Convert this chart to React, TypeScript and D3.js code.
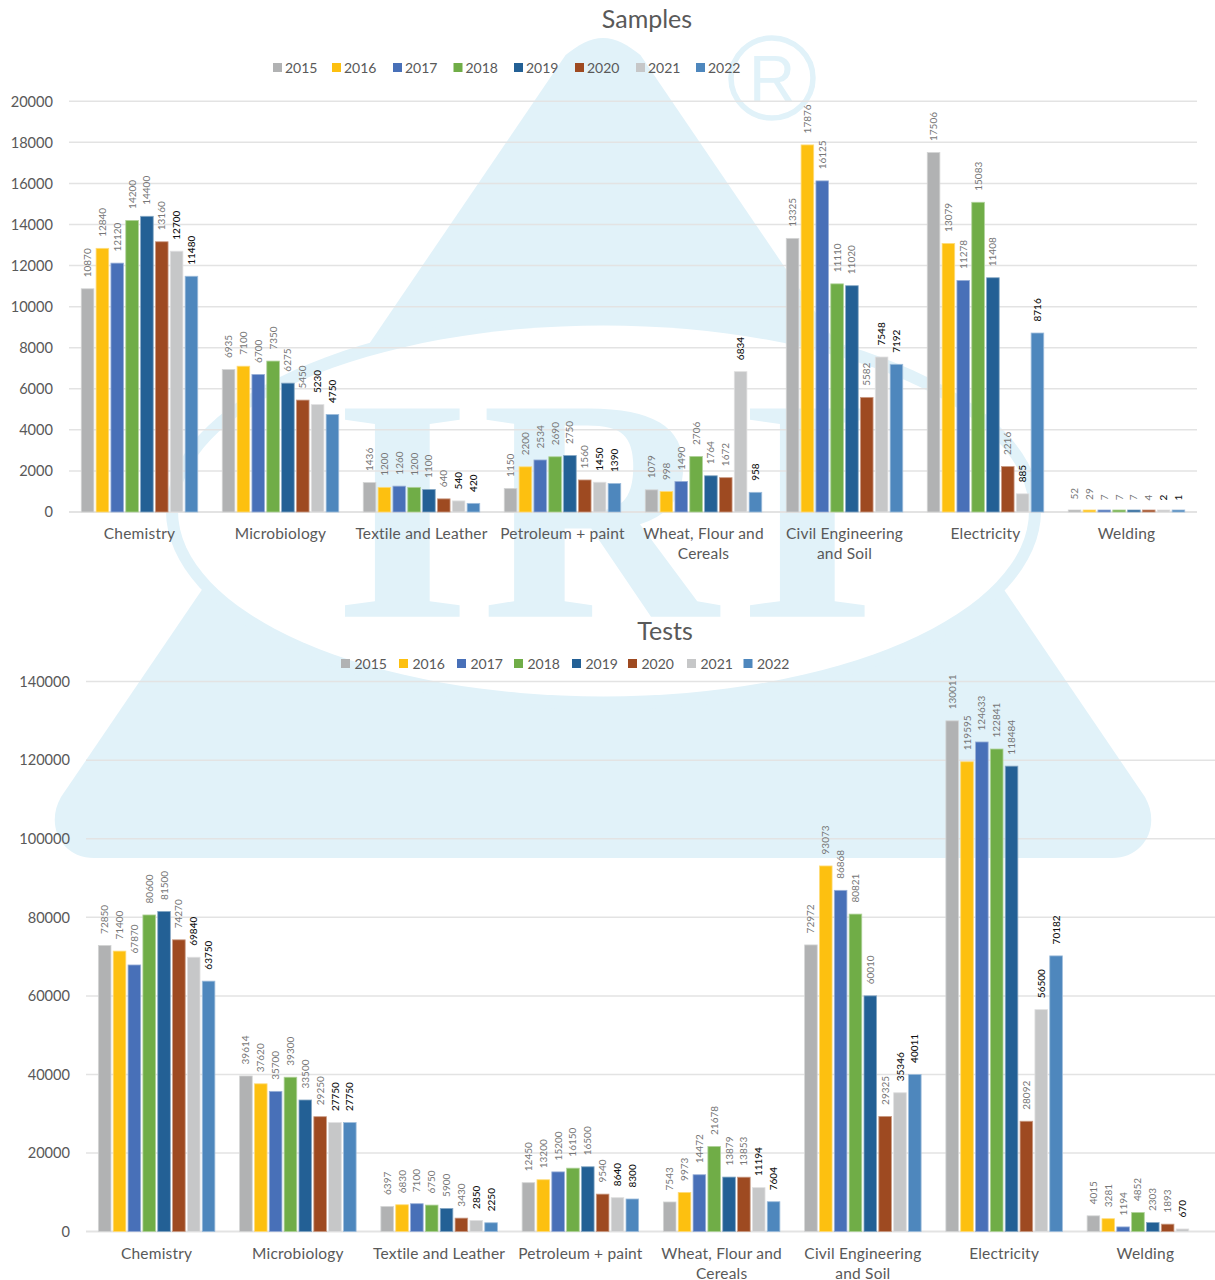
import React from "react";
import * as d3 from "d3";

const categories = ["Chemistry", "Microbiology", "Textile and Leather", "Petroleum + paint", "Wheat, Flour and Cereals", "Civil Engineering and Soil", "Electricity", "Welding"];
const categoryLines = [["Chemistry"], ["Microbiology"], ["Textile and Leather"], ["Petroleum + paint"], ["Wheat, Flour and", "Cereals"], ["Civil Engineering", "and Soil"], ["Electricity"], ["Welding"]];
const years = ["2015", "2016", "2017", "2018", "2019", "2020", "2021", "2022"];
const yearColors = ["#b1b2b3", "#fdc010", "#4870b8", "#70ad47", "#236095", "#9e4a21", "#c6c7c8", "#4e87bd"];

const samples2015 = [10870, 6935, 1436, 1150, 1079, 13325, 17506, 52];
const samples2016 = [12840, 7100, 1200, 2200, 998, 17876, 13079, 29];
const samples2017 = [12120, 6700, 1260, 2534, 1490, 16125, 11278, 7];
const samples2018 = [14200, 7350, 1200, 2690, 2706, 11110, 15083, 7];
const samples2019 = [14400, 6275, 1100, 2750, 1764, 11020, 11408, 7];
const samples2020 = [13160, 5450, 640, 1560, 1672, 5582, 2216, 4];
const samples2021 = [12700, 5230, 540, 1450, 6834, 7548, 885, 2];
const samples2022 = [11480, 4750, 420, 1390, 958, 7192, 8716, 1];
const samplesSeries = [samples2015, samples2016, samples2017, samples2018, samples2019, samples2020, samples2021, samples2022];

const tests2015 = [72850, 39614, 6397, 12450, 7543, 72972, 130011, 4015];
const tests2016 = [71400, 37620, 6830, 13200, 9973, 93073, 119595, 3281];
const tests2017 = [67870, 35700, 7100, 15200, 14472, 86868, 124633, 1194];
const tests2018 = [80600, 39300, 6750, 16150, 21678, 80821, 122841, 4852];
const tests2019 = [81500, 33500, 5900, 16500, 13879, 60010, 118484, 2303];
const tests2020 = [74270, 29250, 3430, 9540, 13853, 29325, 28092, 1893];
const tests2021 = [69840, 27750, 2850, 8640, 11194, 35346, 56500, 670];
const tests2022 = [63750, 27750, 2250, 8300, 7604, 40011, 70182, null];
const testsSeries = [tests2015, tests2016, tests2017, tests2018, tests2019, tests2020, tests2021, tests2022];

const samplesTicks = [0, 2000, 4000, 6000, 8000, 10000, 12000, 14000, 16000, 18000, 20000];
const testsTicks = [0, 20000, 40000, 60000, 80000, 100000, 120000, 140000];

const FONT = "Lato, 'Open Sans', sans-serif";
const TEXT = "#595959";
const LOGO = "#e1f2f9";

function Watermark() {
  return (
    <g>
      <path
        fill={LOGO}
        d="M565.6,55 C578,45 590,38 603,38 C616,38 628,45 640.4,55 L1145,797 C1161,825 1145,858 1112,858 L94,858 C61,858 45,825 61,797 Z"
      />
      <ellipse cx={603.5} cy={511} rx={437.5} ry={199} fill={LOGO} />
      <ellipse cx={603.5} cy={511} rx={425.5} ry={185.5} fill="#fff" />
      <g fontFamily="'Liberation Serif', serif" fontWeight={700} fontSize={318} fill={LOGO}>
        <text transform="translate(333,616.7) scale(1.12,1)">I</text>
        <text transform="translate(481,616.7) scale(1.03,1)">R</text>
        <text transform="translate(738,616.7) scale(1.12,1)">I</text>
      </g>
      <ellipse cx={772} cy={78} rx={41} ry={40} fill="none" stroke={LOGO} strokeWidth={5.5} />
      <text x={772} y={101} textAnchor="middle" fontFamily="'Liberation Sans', sans-serif" fontSize={64} fill={LOGO}>R</text>
    </g>
  );
}

type ChartProps = {
  title: string;
  titleX: number;
  titleY: number;
  series: (number | null)[][];
  ticks: number[];
  left: number;
  right: number;
  top: number;
  bottom: number;
  tickRight: number;
  labelY: number;
  legendX: number[];
  legendY: number;
  legendGap: number;
};

function isDark(yearIndex: number) {
  return yearIndex >= 6;
}

function Chart(p: ChartProps) {
  const x0 = d3.scaleBand<string>().domain(categories).range([p.left, p.right]).paddingInner(0).paddingOuter(0);
  const groupW = 116.5;
  const x1 = d3.scaleBand<string>().domain(years).range([0, groupW]).paddingInner(0.15).paddingOuter(0);
  const y = d3.scaleLinear().domain([0, p.ticks[p.ticks.length - 1]]).range([p.bottom, p.top]);
  const groupOffset = (x0.bandwidth() - groupW) / 2;

  return (
    <g fontFamily={FONT}>
      <text x={p.titleX} y={p.titleY + 2} textAnchor="middle" fontSize={25} fill={TEXT} dominantBaseline="middle">{p.title}</text>
      {years.map((yr, i) => (
        <g key={yr}>
          <rect x={p.legendX[i]} y={p.legendY - 4.5} width={9} height={9} fill={yearColors[i]} />
          <text x={p.legendX[i] + p.legendGap} y={p.legendY + 1.5} fontSize={14} fill={TEXT} dominantBaseline="middle">{yr}</text>
        </g>
      ))}
      {p.ticks.map((t) => (
        <g key={t}>
          <line x1={p.left} x2={p.right} y1={y(t)} y2={y(t)} stroke="#e3e3e3" strokeWidth={t === 0 ? 2 : 1.5} />
          <text x={p.tickRight} y={y(t) + 1.5} textAnchor="end" dominantBaseline="middle" fontSize={14.6} fill={TEXT}>{t}</text>
        </g>
      ))}
      {categories.map((c, ci) => (
        <g key={c}>
          {categoryLines[ci].map((ln, li) => (
            <text key={li} x={(x0(c) as number) + x0.bandwidth() / 2} y={p.labelY + 1 + li * 20} textAnchor="middle" dominantBaseline="middle" fontSize={15.5} letterSpacing={0.2} fill={TEXT}>{ln}</text>
          ))}
        </g>
      ))}
      {p.series.map((vals, si) => (
        <g key={years[si]}>
          {vals.map((v, ci) => {
            if (v === null) return null;
            const bx = (x0(categories[ci]) as number) + groupOffset + (x1(years[si]) as number);
            const h = Math.max(2, p.bottom - y(v));
            const by = p.bottom - h;
            const tint = d3.interpolateRgb(yearColors[si], "#ffffff")(0.45);
            const lx = bx + x1.bandwidth() / 2 + 1;
            const ly = y(v) - 11.5;
            return (
              <g key={ci}>
                <rect x={bx} y={by} width={x1.bandwidth()} height={h} fill={yearColors[si]} stroke={tint} strokeWidth={0.8} />
                <text
                  transform={`translate(${lx},${ly}) rotate(-90)`}
                  dominantBaseline="middle"
                  fontSize={10}
                  fill={isDark(si) ? "#111111" : "#767676"}
                  fontWeight={isDark(si) ? 500 : 400}
                >
                  {v}
                </text>
              </g>
            );
          })}
        </g>
      ))}
    </g>
  );
}

export default function App() {
  return (
    <svg width={1215} height={1280} style={{ position: "absolute", left: 0, top: 0, display: "block" }}>
      <rect width={1215} height={1280} fill="#fff" />
      <Watermark />
      <Chart
        title="Samples" titleX={647} titleY={20}
        series={samplesSeries} ticks={samplesTicks}
        left={69} right={1197} top={101.3} bottom={512}
        tickRight={53} labelY={534}
        legendX={[273, 332, 393, 453.5, 514, 575, 636, 696]} legendY={67.5} legendGap={12}
      />
      <Chart
        title="Tests" titleX={665} titleY={632}
        series={testsSeries} ticks={testsTicks}
        left={86} right={1216} top={681.6} bottom={1231.6}
        tickRight={70} labelY={1254}
        legendX={[341, 399, 457, 514, 572, 628, 687, 743.5]} legendY={663.5} legendGap={13.5}
      />
    </svg>
  );
}
